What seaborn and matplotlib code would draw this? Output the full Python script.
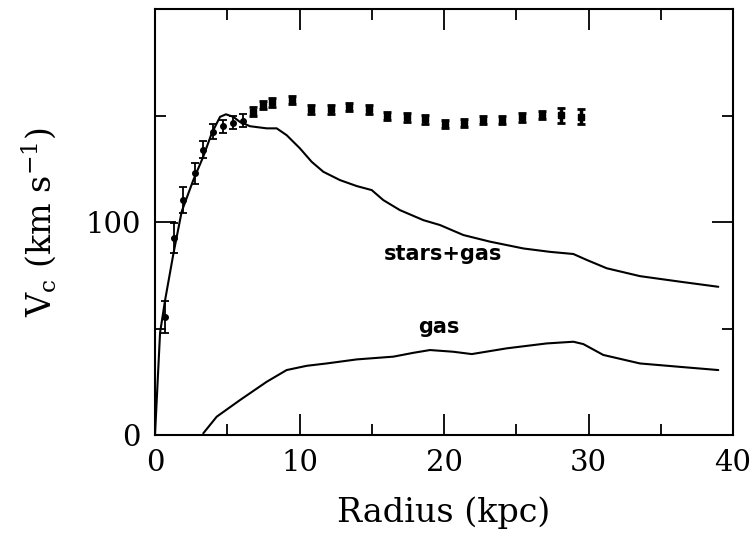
import matplotlib
matplotlib.use("Agg")
import matplotlib.pyplot as plt
import seaborn as sns
import pandas as pd
from matplotlib.ticker import MultipleLocator

# Observed rotation curve (inner points with visible error bars)
r_inner = [0.69, 1.34, 1.96, 2.77, 3.34, 4.03, 4.68, 5.42, 6.07]
v_inner = [55.5, 92.6, 110.3, 122.8, 134.0, 142.4, 145.0, 146.6, 147.6]
e_inner = [7.5, 7.0, 6.0, 5.0, 4.0, 3.5, 3.0, 3.0, 3.0]

# Outer points (error bars about the size of the marker)
r_outer = [6.76, 7.45, 8.10, 9.46, 10.77, 12.16, 13.45, 14.79, 16.08, 17.42,
           18.71, 20.07, 21.38, 22.68, 23.99, 25.38, 26.76, 28.08, 29.46]
v_outer = [151.8, 155.0, 156.2, 157.3, 152.9, 152.9, 154.1, 152.9, 149.9, 149.2,
           148.2, 146.0, 146.6, 147.9, 147.9, 149.2, 150.2, 150.2, 149.4]
e_outer = [2.0, 2.0, 2.0, 2.0, 2.0, 2.0, 2.0, 2.0, 2.0, 2.0,
           2.0, 2.0, 2.0, 2.0, 2.0, 2.0, 2.0, 3.5, 3.5]

# Model curves
r_sg = [0.0, 0.35, 0.69, 1.27, 1.85, 2.65, 3.34, 3.92, 4.5, 4.91, 5.42, 5.88,
        6.57, 7.73, 8.42, 9.11, 10.03, 10.84, 11.65, 12.8, 13.96, 15.0, 15.8,
        16.95, 18.57, 19.72, 21.34, 23.18, 25.49, 27.34, 28.95, 29.88, 31.26,
        33.56, 36.33, 38.98]
v_sg = [0.0, 48.0, 63.0, 85.0, 105.0, 119.7, 130.7, 141.6, 149.4, 150.6, 149.4,
        147.0, 145.0, 144.0, 144.0, 140.8, 134.6, 128.3, 123.6, 119.7, 116.9,
        115.0, 110.3, 105.6, 100.9, 98.6, 93.9, 90.8, 87.6, 86.0, 85.0, 82.2,
        78.3, 74.6, 72.0, 69.6]

r_gas = [3.34, 4.27, 5.88, 7.73, 9.11, 10.5, 11.88, 13.96, 16.5, 17.88, 19.03,
         20.64, 21.92, 24.34, 27.1, 28.95, 29.64, 31.02, 33.56, 36.33, 38.98]
v_gas = [0.8, 8.6, 16.4, 25.0, 30.5, 32.5, 33.6, 35.5, 36.8, 38.6, 39.9,
         39.1, 38.0, 40.7, 43.0, 43.8, 42.7, 37.6, 33.6, 32.0, 30.5]

sns.set_style("ticks")
plt.rcParams['font.family'] = ['DejaVu Serif']
plt.rcParams['mathtext.fontset'] = 'dejavuserif'
plt.rcParams['text.color'] = 'black'
plt.rcParams['axes.labelcolor'] = 'black'
plt.rcParams['xtick.color'] = 'black'
plt.rcParams['ytick.color'] = 'black'

fig = plt.figure(figsize=(7.55, 5.35), dpi=100)
ax = fig.add_axes([0.2053, 0.1869, 0.7656, 0.7961])

sns.lineplot(data=pd.DataFrame({"r": r_sg, "v": v_sg}), x="r", y="v",
             color="black", lw=1.5, sort=False, ax=ax)
sns.lineplot(data=pd.DataFrame({"r": r_gas, "v": v_gas}), x="r", y="v",
             color="black", lw=1.5, sort=False, ax=ax)

ax.errorbar(r_inner, v_inner, yerr=e_inner, fmt="o", color="black", ms=4,
            elinewidth=1.3, capsize=3, capthick=1.3)
ax.errorbar(r_outer, v_outer, yerr=e_outer, fmt="s", color="black", ms=5,
            elinewidth=2.5, capsize=3, capthick=2)

ax.text(19.9, 85, "stars+gas", ha="center", va="center", fontsize=15,
        fontweight="bold", family="DejaVu Sans")
ax.text(19.65, 50.7, "gas", ha="center", va="center", fontsize=15,
        fontweight="bold", family="DejaVu Sans")

ax.set_xlim(0, 40)
ax.set_ylim(0, 200)
ax.xaxis.set_major_locator(MultipleLocator(10))
ax.xaxis.set_minor_locator(MultipleLocator(5))
ax.yaxis.set_major_locator(MultipleLocator(100))
ax.yaxis.set_minor_locator(MultipleLocator(50))
ax.tick_params(which="both", direction="in", top=True, right=True,
               width=1.3, labelsize=21)
ax.tick_params(which="major", length=15, pad=10)
ax.tick_params(which="minor", length=8)
ax.set_yticks([0, 100])
ax.set_yticks([50, 150], minor=True)
for s in ax.spines.values():
    s.set_linewidth(1.5)
    s.set_color("black")

ax.set_xlabel("Radius (kpc)", fontsize=24, labelpad=14)
ax.set_ylabel(r"V$_{\rm c}$ (km s$^{-1}$)", fontsize=24, labelpad=20)

fig.savefig("out.png", dpi=100)
